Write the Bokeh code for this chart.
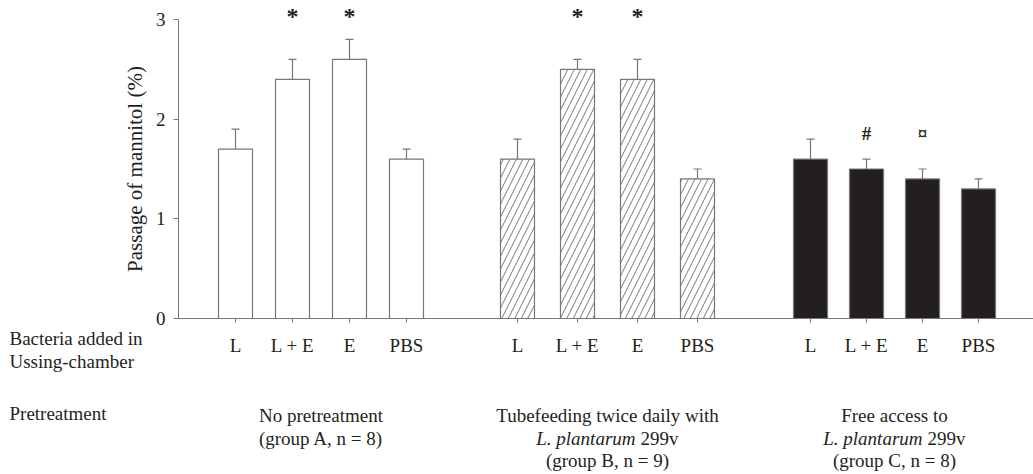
from bokeh.plotting import figure
from bokeh.models import Range1d, FixedTicker, Whisker, ColumnDataSource, Label, TeeHead, LinearAxis
from bokeh.embed import file_html
from bokeh.resources import INLINE
from bokeh.core.properties import value

# ---------------- data ----------------
bacteria = ["L", "L + E", "E", "PBS"]
groups = ["A", "B", "C"]
means_A = [1.7, 2.4, 2.6, 1.6]
sem_A = [0.2, 0.2, 0.2, 0.1]
means_B = [1.6, 2.5, 2.4, 1.4]
sem_B = [0.2, 0.1, 0.2, 0.1]
means_C = [1.6, 1.5, 1.4, 1.3]
sem_C = [0.2, 0.1, 0.1, 0.1]
marks_A = ["", "*", "*", ""]
marks_B = ["", "*", "*", ""]
marks_C = ["", "#", "\u00a4", ""]
pre_A = ["No pretreatment", "(group A, n = 8)"]
pre_B = ["Tubefeeding twice daily with", "L. plantarum|299v", "(group B, n = 9)"]
pre_C = ["Free access to", "L. plantarum|299v", "(group C, n = 8)"]
y_ticks = [0, 1, 2, 3]
y_label = "Passage of mannitol (%)"
row_label_1 = ["Bacteria added in", "Ussing-chamber"]
row_label_2 = "Pretreatment"

# ---------------- layout constants ----------------
FONT = "Liberation Serif"
TXT = "#231f20"
GREY = "#777777"
W, H = 1033, 474
AXIS_Y = 318.0          # pixel y of the zero line
PPU = 99.67             # pixels per y unit
Y_AXIS_X = 178          # pixel x of the y axis
group_start = [235, 517, 810]
group_step = [57, 60, 56]
BAR_W = 34
mark_y = [3.03, 3.03, 1.86]


def py(pix_y):
    return (AXIS_Y - pix_y) / PPU


means = [means_A, means_B, means_C]
sems = [sem_A, sem_B, sem_C]
marks = [marks_A, marks_B, marks_C]
pres = [pre_A, pre_B, pre_C]

p = figure(width=W, height=H, output_backend="svg", toolbar_location=None,
           x_range=Range1d(0, W), y_range=Range1d(py(H), py(0)),
           x_axis_location=None, y_axis_location=None,
           min_border_left=0, min_border_right=0, min_border_top=0,
           min_border_bottom=0)
p.outline_line_color = None
p.xgrid.visible = False
p.ygrid.visible = False
p.background_fill_color = "white"
p.border_fill_color = "white"

fills = ["white", "white", "#231f20"]
hatches = [None, "/", None]

all_x = []
all_lab = []
for g in range(3):
    xs = [group_start[g] + i * group_step[g] for i in range(4)]
    all_x += xs
    all_lab += bacteria
    src = ColumnDataSource(dict(x=xs, top=means[g],
                                upper=[m + s for m, s in zip(means[g], sems[g])],
                                mark=marks[g], my=[mark_y[g]] * 4))
    kw = {}
    if hatches[g]:
        kw = dict(hatch_pattern=hatches[g], hatch_scale=13, hatch_weight=0.8,
                  hatch_color="#555555")
    p.vbar(x="x", top="top", bottom=0, width=BAR_W, source=src,
           fill_color=fills[g], line_color=GREY, line_width=1.2, **kw)
    p.add_layout(Whisker(base="x", lower="top", upper="upper", source=src,
                         line_color=GREY, line_width=1.2, lower_head=None,
                         upper_head=TeeHead(size=8, line_color=GREY, line_width=1.2)))
    p.text(x="x", y="my", text="mark", source=src, text_align="center",
           text_baseline="middle", text_font=value(FONT),
           text_font_size="24px" if g < 2 else "19px",
           text_font_style="bold", text_color=TXT)

    # pretreatment group labels
    cx = (xs[0] + xs[-1]) / 2
    baselines = [415, 438, 460]
    for j, line in enumerate(pres[g]):
        yv = py(baselines[j])
        if "|" in line:
            it, rest = line.split("|")
            p.add_layout(Label(x=cx + 28, y=yv, text=it, text_align="right",
                               text_baseline="alphabetic", text_font=FONT,
                               text_font_size="19px", text_font_style="italic",
                               text_color=TXT))
            p.add_layout(Label(x=cx + 33, y=yv, text=rest, text_align="left",
                               text_baseline="alphabetic", text_font=FONT,
                               text_font_size="19px", text_color=TXT))
        else:
            p.add_layout(Label(x=cx, y=yv, text=line, text_align="center",
                               text_baseline="alphabetic", text_font=FONT,
                               text_font_size="19px", text_color=TXT))

# row labels on the left
for j, line in enumerate(row_label_1):
    p.add_layout(Label(x=9, y=py([338, 361][j]), text=line, text_align="left",
                       text_baseline="alphabetic", text_font=FONT,
                       text_font_size="19px", text_color=TXT))
p.add_layout(Label(x=9, y=py(413), text=row_label_2, text_align="left",
                   text_baseline="alphabetic", text_font=FONT,
                   text_font_size="19px", text_color=TXT))

# x axis, pinned at y = 0
xa = LinearAxis(fixed_location=0)
xa.bounds = (Y_AXIS_X, W)
xa.ticker = FixedTicker(ticks=all_x)
xa.major_label_overrides = {x: l for x, l in zip(all_x, all_lab)}
xa.axis_line_color = GREY
xa.major_tick_line_color = GREY
xa.major_tick_out = 4
xa.major_tick_in = 0
xa.minor_tick_line_color = None
xa.major_label_standoff = 12
xa.major_label_text_font = FONT
xa.major_label_text_font_size = "19px"
xa.major_label_text_color = TXT
p.add_layout(xa, "below")

# y axis, pinned at the left edge of the bars area
ya = LinearAxis(fixed_location=Y_AXIS_X)
ya.bounds = (0, 3)
ya.ticker = FixedTicker(ticks=y_ticks)
ya.axis_line_color = GREY
ya.major_tick_line_color = GREY
ya.major_tick_out = 5
ya.major_tick_in = 0
ya.minor_tick_line_color = None
ya.major_label_standoff = 8
ya.major_label_text_font = FONT
ya.major_label_text_font_size = "19px"
ya.major_label_text_color = TXT
ya.axis_label = y_label
ya.axis_label_text_font = FONT
ya.axis_label_text_font_size = "21px"
ya.axis_label_text_font_style = "normal"
ya.axis_label_text_color = TXT
ya.axis_label_standoff = 6
p.add_layout(ya, "left")

open("out.html", "w").write(file_html(p, INLINE))
